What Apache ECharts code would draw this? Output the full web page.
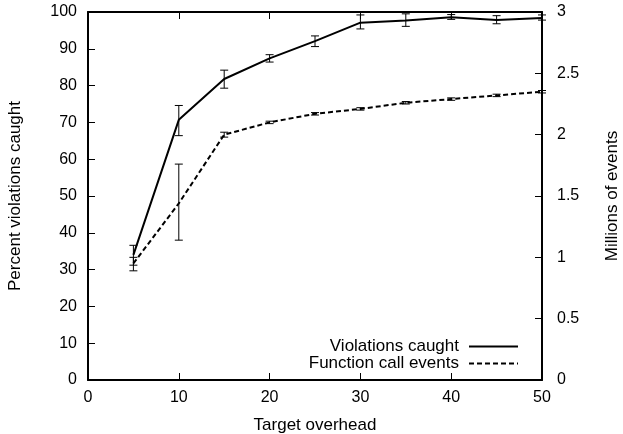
<!DOCTYPE html>
<html>
<head>
<meta charset="utf-8">
<script src="https://cdn.jsdelivr.net/npm/echarts@6/dist/echarts.min.js"></script>
<style>
  html, body { margin: 0; padding: 0; background: #fff; }
  #chart { width: 623px; height: 434px; }
</style>
</head>
<body>
<div id="chart"></div>
<script>
// target overhead values
var overhead = [5, 10, 15, 20, 25, 30, 35, 40, 45, 50];

// percent of violations caught, with error bar ends
var caught = [34, 70.7, 81.8, 87.4, 92.1, 97.1, 97.7, 98.6, 97.8, 98.4];
var caughtLow = [31.2, 66.4, 79.3, 86.4, 90.6, 95.4, 96.1, 98.0, 96.8, 97.8];
var caughtHigh = [36.6, 74.6, 84.2, 88.4, 93.5, 99.2, 99.5, 99.3, 99.0, 99.2];

// function call events, millions, with error bar ends
var events = [0.95, 1.44, 2.0, 2.10, 2.17, 2.21, 2.26, 2.29, 2.32, 2.35];
var eventsLow = [0.89, 1.14, 1.98, 2.09, 2.16, 2.20, 2.25, 2.28, 2.31, 2.34];
var eventsHigh = [1.00, 1.76, 2.02, 2.11, 2.18, 2.22, 2.27, 2.30, 2.33, 2.36];

var fontName = 'Liberation Sans';

function pairs(xs, ys) {
  var out = [];
  for (var i = 0; i < xs.length; i++) out.push([xs[i], ys[i]]);
  return out;
}

function triples(xs, lo, hi) {
  var out = [];
  for (var i = 0; i < xs.length; i++) out.push([xs[i], lo[i], hi[i]]);
  return out;
}

function errorBars(params, api) {
  var x = api.value(0);
  var lo = api.coord([x, api.value(1)]);
  var hi = api.coord([x, api.value(2)]);
  var half = 4;
  var style = { stroke: '#000', lineWidth: 1 };
  return {
    type: 'group',
    children: [
      { type: 'line', shape: { x1: lo[0], y1: lo[1], x2: hi[0], y2: hi[1] }, style: style },
      { type: 'line', shape: { x1: lo[0] - half, y1: lo[1], x2: lo[0] + half, y2: lo[1] }, style: style },
      { type: 'line', shape: { x1: hi[0] - half, y1: hi[1], x2: hi[0] + half, y2: hi[1] }, style: style }
    ]
  };
}

var myChart = echarts.init(document.getElementById('chart'));

var axisText = { color: '#000', fontFamily: fontName, fontSize: 16 };
var nameText = { color: '#000', fontFamily: fontName, fontSize: 17 };
var blackLine = { onZero: false, lineStyle: { color: '#000', width: 2 } };
var innerTick = { show: true, inside: true, length: 7, lineStyle: { color: '#000', width: 1 } };

myChart.setOption({
  animation: false,
  grid: { left: 88, right: 81, top: 12, bottom: 54, outerBoundsMode: 'none', containLabel: false },
  legend: {
    orient: 'vertical',
    right: 104,
    top: 338,
    align: 'right',
    padding: 0,
    itemWidth: 49,
    itemHeight: 10,
    itemGap: 0,
    itemStyle: { color: 'transparent', borderWidth: 0, opacity: 0 },
    textStyle: { color: '#000', fontFamily: fontName, fontSize: 17, lineHeight: 16, padding: [0, 5, 0, 0] },
    data: ['Violations caught', 'Function call events']
  },
  xAxis: [{
    type: 'value',
    min: 0, max: 50, interval: 10,
    name: 'Target overhead',
    nameLocation: 'middle',
    nameGap: 37,
    nameTextStyle: nameText,
    axisLine: blackLine,
    axisTick: innerTick,
    axisLabel: Object.assign({ margin: 10 }, axisText),
    splitLine: { show: false }
  }, {
    type: 'value',
    position: 'top',
    min: 0, max: 50, interval: 10,
    axisLine: { show: true, onZero: false, lineStyle: { color: '#000', width: 2 } },
    axisTick: innerTick,
    axisLabel: { show: false },
    splitLine: { show: false }
  }],
  yAxis: [{
    type: 'value',
    min: 0, max: 100, interval: 10,
    name: 'Percent violations caught',
    nameLocation: 'middle',
    nameGap: 64,
    nameTextStyle: nameText,
    axisLine: { show: true, onZero: false, lineStyle: { color: '#000', width: 2 } },
    axisTick: innerTick,
    axisLabel: Object.assign({ margin: 11 }, axisText),
    splitLine: { show: false }
  }, {
    type: 'value',
    position: 'right',
    min: 0, max: 3, interval: 0.5,
    name: 'Millions of events',
    nameLocation: 'middle',
    nameGap: 62,
    nameRotate: 90,
    nameTextStyle: nameText,
    axisLine: { show: true, onZero: false, lineStyle: { color: '#000', width: 2 } },
    axisTick: innerTick,
    axisLabel: Object.assign({ margin: 15 }, axisText),
    splitLine: { show: false }
  }],
  series: [{
    name: 'Violations caught',
    type: 'line',
    yAxisIndex: 0,
    symbol: 'none',
    color: '#000',
    lineStyle: { color: '#000', width: 2 },
    data: pairs(overhead, caught)
  }, {
    name: 'Function call events',
    type: 'line',
    yAxisIndex: 1,
    symbol: 'none',
    color: '#000',
    lineStyle: { color: '#000', width: 2, type: [5, 3] },
    data: pairs(overhead, events)
  }, {
    type: 'custom',
    yAxisIndex: 0,
    renderItem: errorBars,
    encode: { x: 0, y: [1, 2] },
    data: triples(overhead, caughtLow, caughtHigh),
    z: 3
  }, {
    type: 'custom',
    yAxisIndex: 1,
    renderItem: errorBars,
    encode: { x: 0, y: [1, 2] },
    data: triples(overhead, eventsLow, eventsHigh),
    z: 3
  }]
});
</script>
</body>
</html>
